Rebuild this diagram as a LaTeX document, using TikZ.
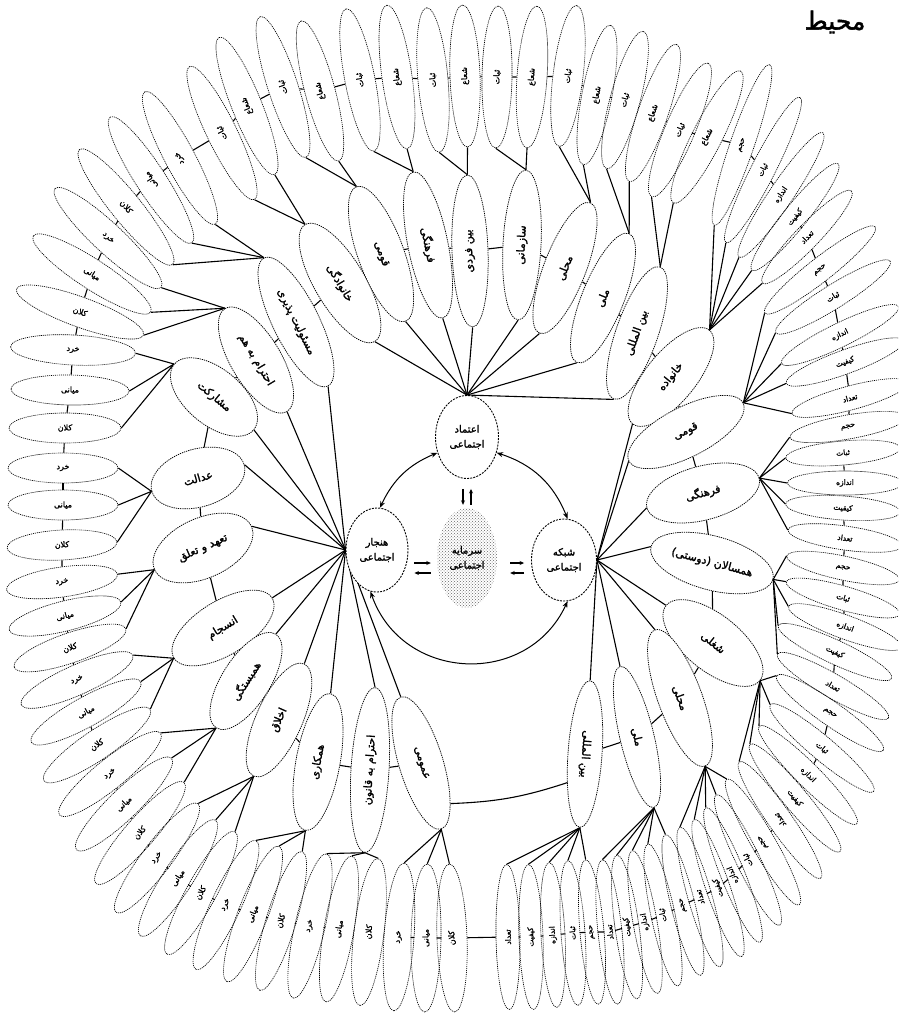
\documentclass[tikz,border=0pt]{standalone}
\usepackage{fontspec}
\newfontfamily\fa[Script=Arabic,FakeBold=1.6]{DejaVu Sans}
\newfontfamily\fan[Script=Arabic]{DejaVu Sans}
\TeXXeTstate=1
\usetikzlibrary{shapes.geometric,arrows.meta,patterns,calc}
\newcommand\ar[1]{\beginR #1\endR}
\pgfdeclarelayer{back}
\pgfsetlayers{back,main}
\begin{document}
\begin{tikzpicture}[x=1pt,y=1pt,
  sat/.style={ellipse, draw, fill=white, line width=0.75pt, dash pattern=on 1.3pt off 0.9pt, inner sep=0pt},
  lf/.style={ellipse, draw, line width=0.65pt, dash pattern=on 1.1pt off 0.9pt, inner sep=0pt},
  hubst/.style={ellipse, draw, fill=white, line width=0.9pt, dash pattern=on 2pt off 1.2pt, inner sep=0pt, align=center, font=\fa\fontsize{10}{15}\selectfont},
  st/.style={font=\fa\fontsize{11}{13}\selectfont, inner sep=0pt},
  lt/.style={font=\fa\fontsize{8}{9}\selectfont, inner sep=0pt},
  conn/.style={line width=1.1pt},
  tie/.style={line width=1.1pt},
  bia/.style={line width=1pt, {Stealth[length=6.5pt,width=5pt]}-{Stealth[length=6.5pt,width=5pt]}},
  sa/.style={line width=1.2pt, -{Stealth[length=4.5pt,width=4pt]}}
]
\useasboundingbox (0,0) rectangle (898,-1015);
\clip (0,0) rectangle (898,-1015);

% ---------- central nodes ----------
\node[hubst, minimum width=63pt, minimum height=83pt] (TA) at (467,-437) {\ar{اعتماد}\\\ar{اجتماعی}};
\node[hubst, minimum width=62pt, minimum height=84pt] (TB) at (377,-550) {\ar{هنجار}\\\ar{اجتماعی}};
\node[hubst, minimum width=65pt, minimum height=82pt] (TC) at (564,-560) {\ar{شبکه}\\\ar{اجتماعی}};
\node[ellipse, pattern=crosshatch dots, pattern color=black!60, minimum width=60pt, minimum height=100pt, inner sep=0pt, align=center, font=\fa\fontsize{10}{15}\selectfont] (S) at (467,-558) {\ar{سرمایه}\\\ar{اجتماعی}};

\node[font=\fa\fontsize{25}{27}\selectfont, inner sep=0pt] (env) at (835,-22) {\ar{محیط}};

% ---------- second level (satellites) ----------
\foreach \n/\x/\y/\ang/\ma/\mi/\tr/\lab in {
  A1/340/283/120.8/136/50/-59.2/خانوادگی,
  A2/381/254/110/143/46/-70/قومی,
  A3/428/245/101.4/149/40/-78.6/فرهنگی,
  A4/470/251/92/152/36/92/بین فردی,
  A5/522/245/87/150/38/87/سازمانی,
  A6/565/268/68.7/140/42/68.7/محلی,
  A7/603/298/68/139/42/68/ملی,
  A8/637/333/70.7/140/42/70.7/بین المللی,
  B1/296/322/116.5/143/46/-63.5/مسئولیت پذیری,
  B2/256/360/121/120/50/-59/احترام به هم,
  B3/214/397/140.5/103/56/-39.5/مشارکت,
  B4/198/478/196/96/58/16/عدالت,
  B5/203/548/204/106/60/24/تعهد و تعلق,
  B6/223/628/211.5/115/54/31.5/انسجام,
  B7/246/681/237.5/111/48/57.5/همبستگی,
  B8/279/720/245.8/123/46/65.8/اخلاق,
  B9/318/762/259.6/139/44/79.6/همکاری,
  B10/370/770/266.5/165/38/86.5/احترام به قانون,
  B11/421/763/287/138/44/-73/عمومی,
  C1/671/377/50.7/121/50/50.7/خانواده,
  C2/686/432/27/128/50/27/قومی,
  C3/703/493/14.8/116/54/14.8/فرهنگی,
  C4/712/563/-15/126/54/-15/همسالان (دوستی),
  C5/713/643/-38.7/120/56/-38.7/شغلی,
  C6/680/698/-69.8/145/44/-69.8/محلی,
  C7/637/737/-76.5/145/34/-76.5/ملی,
  C8/585/754/-94/147/34/-94/بین المللی}{
  \node[sat, minimum width=\ma pt, minimum height=\mi pt, rotate=\ang] (\n) at (\x,-\y) {};
  \node[st, rotate=\tr] (\n-t) at (\n.center) {\ar{\lab}};
}

% ---------- leaves ----------
\foreach \n/\x/\y/\ang/\len/\lab in {
  a1/222/133/116/148/ثبات, a2/247/106/112/148/شعاع, a3/283/87/108/148/ثبات, a4/320/91/105/145/شعاع,
  a5/360/80/101/145/ثبات, a6/397/77/98/145/شعاع, a7/433/80/95/145/ثبات, a8/465/76/92/142/شعاع,
  a9/497/77/89/142/ثبات, a10/532/77/86/142/شعاع, a11/568/76/83/142/ثبات, a12/597/95/79/142/شعاع,
  a13/625/100/75/142/ثبات, a14/653/113/71/145/شعاع, a15/680/130/67/145/ثبات, a16/707/137/63/148/شعاع,
  b1/452/938/-88/148/کلان, b2/426/938/-91/148/میانی, b3/399/937/-94/148/خرد,
  b4/369/932/-97/148/کلان, b5/339/929/-100/148/میانی, b6/310/926/-103/148/خرد,
  b7/281/921/-107/145/کلان, b8/253/914/-111/145/میانی, b9/226/905/-115/142/خرد,
  b10/201/893/-119/140/کلان, b11/178/878/-123/138/میانی, b12/157/858/-127/136/خرد,
  b13/140/833/-131/134/کلان, b14/124/804/-136/132/میانی, b15/110/774/-141/130/خرد,
  b16/97/745/-146/128/کلان, b17/86/712/-151/125/میانی, b18/77/680/-156/122/خرد,
  b19/70/648/-161/118/کلان, b20/65/616/-166/115/میانی, b21/62/582/-172/112/خرد,
  b22/62/545/-177/110/کلان, b23/63/505/180/110/میانی, b24/63/468/180/110/خرد,
  b25/65/428/180/112/کلان, b26/70/390/179/118/میانی, b27/73/350/177/125/خرد,
  b28/80/312/160/135/کلان, b29/92/274/147/140/میانی, b30/108/238/137/145/خرد,
  b31/126/207/129/148/کلان, b32/151/180/123/150/میانی, b33/180/158/118/150/خرد}{
  \node[lf, minimum width=\len pt, minimum height=30pt, rotate=\ang] (\n) at (\x,-\y) {};
  \pgfmathsetmacro\tr{\ang-180*round((\ang-35)/180)}
  \node[lt, rotate=\tr] (\n-t) at (\n.center) {\ar{\lab}};
}
\foreach \n/\x/\y/\ang/\len/\lab in {
  c1/742/145/71/170/حجم, c2/763/170/63/163/ثبات, c3/781/195/56/150/اندازه, c4/795/217/51/137/کیفیت, c5/807/237/46/128/تعداد,
  c6/820/270/38/140/حجم, c7/833/297/32/135/ثبات, c8/840/335/26/130/اندازه, c9/845/362/20/125/کیفیت, c10/850/398/15/120/تعداد,
  c11/848/427/10/118/حجم, c12/843/453/5/115/ثبات, c13/845/483/0/115/اندازه, c14/843/508/-4/115/کیفیت, c15/845/538/-8/115/تعداد,
  c16/843/568/-12/115/حجم, c17/843/598/-16/118/ثبات, c18/845/627/-20/120/اندازه, c19/835/652/-25/125/کیفیت, c20/833/686/-30/128/تعداد,
  c21/830/713/-35/130/حجم, c22/822/748/-40/135/ثبات, c23/808/775/-45/138/اندازه, c24/795/798/-50/140/کیفیت, c25/780/820/-55/142/تعداد,
  c26/763/842/-60/145/حجم, c27/748/860/-64/145/ثبات, c28/733/875/-68/145/اندازه, c29/718/888/-71/145/کیفیت, c30/700/897/-74/145/تعداد,
  c31/683/905/-76/145/حجم, c32/663/915/-78/145/ثبات, c33/645/922/-80/145/اندازه, c34/627/927/-82/145/کیفیت, c35/610/932/-84/145/تعداد,
  c36/592/932/-85/145/حجم, c37/573/933/-86/145/ثبات, c38/553/935/-87/145/اندازه, c39/531/937/-88/145/کیفیت, c40/508/937/-89/145/تعداد}{
  \node[lf, minimum width=\len pt, minimum height=24pt, rotate=\ang] (\n) at (\x,-\y) {};
  \pgfmathsetmacro\tr{\ang-180*round((\ang-35)/180)}
  \node[lt, font=\fa\fontsize{7.5}{9}\selectfont, rotate=\tr] (\n-t) at (\n.center) {\ar{\lab}};
}

% ---------- connectors ----------
\begin{pgfonlayer}{back}
\foreach \k in {1,...,8} \draw[conn] (TA.north) -- (A\k.west);
\foreach \k in {1,...,11} \draw[conn] (TB.west) -- (B\k.west);
\foreach \k in {1,...,8} \draw[conn] (TC.east) -- (C\k.west);
\foreach \k in {1,...,8}{\foreach \j in {1,2}{\pgfmathtruncatemacro\m{2*(\k-1)+\j}\draw[conn] (A\k.east) -- (a\m.west);}}
\foreach \k in {1,...,11}{\foreach \j in {1,2,3}{\pgfmathtruncatemacro\m{3*(11-\k)+\j}\draw[conn] (B\k.east) -- (b\m.west);}}
\foreach \k in {1,...,8}{\foreach \j in {1,...,5}{\pgfmathtruncatemacro\m{5*(\k-1)+\j}\draw[conn] (C\k.east) -- (c\m.west);}}
% ties between leaves
\foreach \i in {1,...,32}{\pgfmathtruncatemacro\j{\i+1}\draw[tie] (b\i) -- (b\j);}
\draw[tie] (b33) -- (a1);
\foreach \i in {1,...,15}{\pgfmathtruncatemacro\j{\i+1}\draw[tie] (a\i) -- (a\j);}
\draw[tie] (a16) -- (c1);
\foreach \i in {1,...,39}{\pgfmathtruncatemacro\j{\i+1}\draw[tie] (c\i) -- (c\j);}
\draw[tie] (c40) -- (b1);
% ties between satellites
\foreach \i in {1,...,10}{\pgfmathtruncatemacro\j{\i+1}\draw[tie] (B\i) -- (B\j);}
\draw[tie] (B1) -- (A1);
\foreach \i in {1,...,7}{\pgfmathtruncatemacro\j{\i+1}\draw[tie] (A\i) -- (A\j);}
\draw[tie] (A8) -- (C1);
\foreach \i in {1,...,7}{\pgfmathtruncatemacro\j{\i+1}\draw[tie] (C\i) -- (C\j);}
\draw[tie] (B11.19) to[bend right=8] (C8.-28);
\end{pgfonlayer}

% ---------- central arrows ----------
\draw[bia] (TA.208) to[bend right=21] (TB.86);
\draw[bia] (TA.332) to[bend left=25] (TC.85);
\draw[bia] (TB.261) to[bend right=68, looseness=1.24] (TC.275);
\draw[sa] ($(TA.south)+(-4,-10)$) -- ($(S.north)+(-4,3)$);
\draw[sa] ($(S.north)+(4,3)$) -- ($(TA.south)+(4,-10)$);
\draw[sa] ($(TB.east)+(6,-13)$) -- ($(S.west)+(-6,-5)$);
\draw[sa] ($(S.west)+(-6,-15)$) -- ($(TB.east)+(6,-23)$);
\draw[sa] ($(S.east)+(13,-5)$) -- ($(TC.west)+(-7,-3)$);
\draw[sa] ($(TC.west)+(-7,-13)$) -- ($(S.east)+(13,-15)$);
\end{tikzpicture}
\end{document}
